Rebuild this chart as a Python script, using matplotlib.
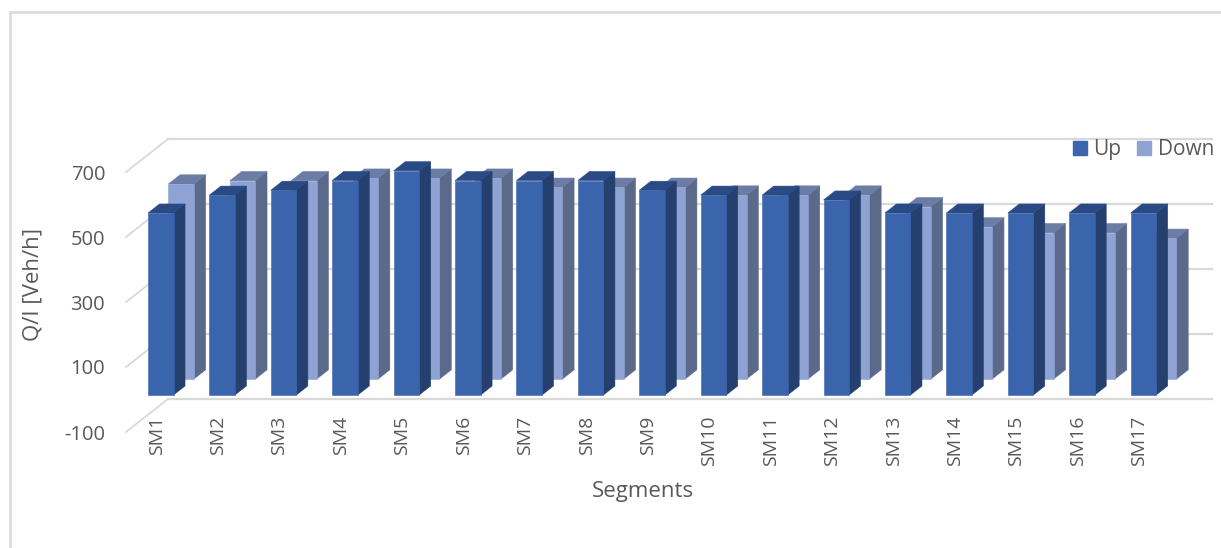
import matplotlib
matplotlib.use("Agg")
import matplotlib.pyplot as plt
from matplotlib.lines import Line2D
from matplotlib.patches import Patch

# -------------------------------
# Data
# -------------------------------
segments = ["SM1", "SM2", "SM3", "SM4", "SM5", "SM6", "SM7", "SM8", "SM9",
            "SM10", "SM11", "SM12", "SM13", "SM14", "SM15", "SM16", "SM17"]
up = [560, 615, 630, 660, 690, 660, 660, 660, 630,
      615, 615, 600, 560, 560, 560, 560, 560]
down = [600, 610, 610, 618, 618, 618, 590, 590, 590,
        566, 566, 566, 530, 468, 450, 450, 433]
y_ticks = [-100, 100, 300, 500, 700]

# -------------------------------
# Layout / colours
# -------------------------------
W, H = 1221, 548
AX_L, AX_R, AX_TOP, AX_BOT = 126, 1170, 172, 432

PX_X = (AX_R - AX_L) / 17          # pixels per category
PX_Y = (AX_BOT - AX_TOP) / 800     # pixels per unit of value
SKEW_X = 42 / PX_X                 # shift of the back wall, category units
SKEW_Y = 33 / PX_Y                 # shift of the back wall, value units

BAR_W = 25.5 / PX_X
BAR_X0 = -14.4 / PX_X
UP_DEPTH = (0.136, 0.41)
DOWN_DEPTH = (0.62, 0.90)

UP_COLORS = ("#3A64AC", "#253F6F", "#2A4A85")
DOWN_COLORS = ("#8FA2D4", "#5B6A8A", "#6B7CA5")
GRID = "#D9D9D9"
TEXT = "#595959"

plt.rcParams["font.family"] = ["Open Sans", "DejaVu Sans"]

fig = plt.figure(figsize=(W / 100, H / 100), dpi=100)
ax = fig.add_axes([AX_L / W, 1 - AX_BOT / H, (AX_R - AX_L) / W, (AX_BOT - AX_TOP) / H])
ax.set_xlim(-0.5, 16.5)
ax.set_ylim(-100, 700)
ax.patch.set_alpha(0)
for spine in ax.spines.values():
    spine.set_visible(False)


def project(x, v, f):
    # oblique projection: f=0 is the front plane, f=1 the back wall
    return x + f * SKEW_X, v + f * SKEW_Y


def face(corners, color, zorder):
    pts = [project(*c) for c in corners]
    ax.fill([p[0] for p in pts], [p[1] for p in pts], color=color, lw=0.4,
            zorder=zorder, clip_on=False)


def draw_bar(i, value, depth, colors, zorder):
    x0 = i + BAR_X0
    x1 = x0 + BAR_W
    f0, f1 = depth
    face([(x1, 0, f0), (x1, 0, f1), (x1, value, f1), (x1, value, f0)], colors[1], zorder)
    face([(x0, value, f0), (x1, value, f0), (x1, value, f1), (x0, value, f1)], colors[2], zorder)
    face([(x0, 0, f0), (x1, 0, f0), (x1, value, f0), (x0, value, f0)], colors[0], zorder)


# -------------------------------
# Back wall and left wall gridlines
# -------------------------------
for t in y_ticks:
    xa, ya = project(-0.5, t, 0)
    xb, yb = project(-0.5, t, 1)
    xc, yc = project(16.5, t, 1)
    ax.plot([xa, xb], [ya, yb], color=GRID, lw=1.3, zorder=1, clip_on=False)
    ax.plot([xb, xc], [yb, yc], color=GRID, lw=1.6, zorder=1, clip_on=False)

# -------------------------------
# Bars, rear series first
# -------------------------------
for i, v in enumerate(down):
    draw_bar(i, v, DOWN_DEPTH, DOWN_COLORS, 2)
for i, v in enumerate(up):
    draw_bar(i, v, UP_DEPTH, UP_COLORS, 3)

# -------------------------------
# Axes text
# -------------------------------
ax.set_yticks(y_ticks)
ax.set_yticklabels([str(t) for t in y_ticks], fontsize=14.5, color=TEXT)
ax.set_xticks(range(len(segments)))
ax.set_xticklabels(segments, rotation=90, fontsize=14, color=TEXT)
ax.tick_params(axis="y", length=0, pad=15)
ax.tick_params(axis="x", length=0, pad=-12)
for lab in ax.get_xticklabels():
    lab.set_va("top")

ax.set_xlabel("Segments", fontsize=16, color=TEXT)
ax.xaxis.set_label_coords(0.495, 1 - (491 - AX_TOP) / (AX_BOT - AX_TOP), transform=ax.transAxes)
ax.xaxis.label.set_va("center")
ax.set_ylabel("Q/I [Veh/h]", fontsize=16, color=TEXT)
ax.yaxis.set_label_coords((33 - AX_L) / (AX_R - AX_L), 1 - (284 - AX_TOP) / (AX_BOT - AX_TOP),
                          transform=ax.transAxes)
ax.yaxis.label.set_va("center")

handles = [Patch(color=UP_COLORS[0], label="Up"), Patch(color=DOWN_COLORS[0], label="Down")]
ax.legend(handles=handles, ncols=2, frameon=False, fontsize=15, labelcolor=TEXT,
          loc="upper right", bbox_to_anchor=(1214 / W, 1 - 139 / H),
          bbox_transform=fig.transFigure, handlelength=0.67, handleheight=0.67,
          handletextpad=0.3, columnspacing=0.8, borderpad=0, borderaxespad=0)

# -------------------------------
# Chart area border (top and left)
# -------------------------------
fig.add_artist(Line2D([9.5 / W, 1], [1 - 11.5 / H, 1 - 11.5 / H], color=GRID, lw=1.8))
fig.add_artist(Line2D([9.5 / W, 9.5 / W], [0, 1 - 11.5 / H], color=GRID, lw=1.8))

fig.savefig("out.png", dpi=100)
